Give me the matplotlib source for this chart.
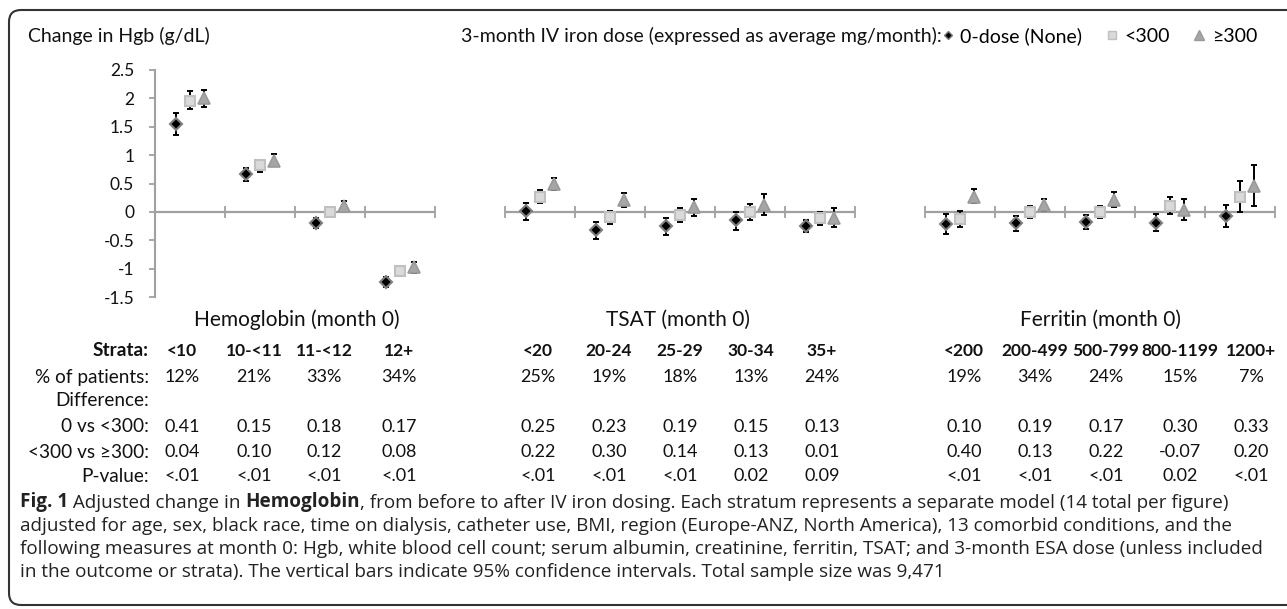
import numpy as np
import matplotlib
matplotlib.use('Agg')
import matplotlib.pyplot as plt
from matplotlib.lines import Line2D
from matplotlib.patches import FancyBboxPatch

plt.rcParams['font.family'] = ['Lato', 'DejaVu Sans']
plt.rcParams['axes.unicode_minus'] = False

# data
panel_titles = ['Hemoglobin (month 0)', 'TSAT (month 0)', 'Ferritin (month 0)']
strata = [['<10', '10-<11', '11-<12', '12+'],
          ['<20', '20-24', '25-29', '30-34', '35+'],
          ['<200', '200-499', '500-799', '800-1199', '1200+']]
pct_patients = [['12%', '21%', '33%', '34%'],
                ['25%', '19%', '18%', '13%', '24%'],
                ['19%', '34%', '24%', '15%', '7%']]
diff_0_vs_lt300 = [['0.41', '0.15', '0.18', '0.17'],
                   ['0.25', '0.23', '0.19', '0.15', '0.13'],
                   ['0.10', '0.19', '0.17', '0.30', '0.33']]
diff_lt300_vs_ge300 = [['0.04', '0.10', '0.12', '0.08'],
                       ['0.22', '0.30', '0.14', '0.13', '0.01'],
                       ['0.40', '0.13', '0.22', '-0.07', '0.20']]
p_values = [['<.01', '<.01', '<.01', '<.01'],
            ['<.01', '<.01', '<.01', '0.02', '0.09'],
            ['<.01', '<.01', '<.01', '0.02', '<.01']]

# estimates and 95% CI, 14 strata in order (Hgb 4, TSAT 5, Ferritin 5)
none_est = [1.55, 0.67, -0.19, -1.23, 0.02, -0.32, -0.25, -0.15, -0.25, -0.22, -0.20, -0.17, -0.20, -0.07]
none_lo = [1.36, 0.55, -0.29, -1.33, -0.14, -0.47, -0.40, -0.32, -0.36, -0.39, -0.33, -0.30, -0.34, -0.26]
none_hi = [1.74, 0.78, -0.11, -1.14, 0.16, -0.17, -0.11, 0.00, -0.14, -0.04, -0.08, -0.05, -0.04, 0.12]
lt300_est = [1.96, 0.82, -0.01, -1.05, 0.27, -0.09, -0.06, 0.00, -0.11, -0.12, 0.00, 0.00, 0.11, 0.27]
lt300_lo = [1.81, 0.71, -0.07, -1.10, 0.15, -0.22, -0.18, -0.14, -0.23, -0.27, -0.11, -0.10, -0.04, -0.01]
lt300_hi = [2.13, 0.90, 0.05, -1.00, 0.39, 0.02, 0.06, 0.14, -0.01, 0.02, 0.10, 0.10, 0.26, 0.55]
ge300_est = [2.00, 0.90, 0.10, -0.98, 0.49, 0.21, 0.08, 0.12, -0.10, 0.27, 0.12, 0.21, 0.04, 0.46]
ge300_lo = [1.85, 0.80, 0.02, -1.07, 0.39, 0.08, -0.07, -0.05, -0.27, 0.16, 0.02, 0.08, -0.15, 0.11]
ge300_hi = [2.15, 1.02, 0.20, -0.88, 0.59, 0.34, 0.22, 0.31, 0.06, 0.40, 0.23, 0.35, 0.22, 0.83]

series_labels = ['0-dose (None)', '<300', '≥300']

# layout
W, H = 1287, 609
panel_start = [0, 5, 11]   # category slots, one empty slot between panels
offsets = [0.3, 0.5, 0.7]
col_x = [[182, 254, 324, 399], [538, 609, 680, 751, 822], [964, 1035, 1106, 1180, 1251]]
title_x = [297, 678, 1100]
row_y = [351, 377, 401, 427, 452, 476]
row_labels = ['Strata:', '% of patients:', 'Difference:', '0 vs <300:', '<300 vs ≥300:', 'P-value:']


def fx(x):
    return x / W


def fy(y):
    return 1 - y / H


fig = plt.figure(figsize=(W / 100, H / 100), dpi=100)
ax = fig.add_axes([fx(155), fy(297), 1120 / W, 227 / H])

xpos = []
for p, cats in enumerate(strata):
    for i in range(len(cats)):
        xpos.append(panel_start[p] + i)
xpos = np.array(xpos, dtype=float)

styles = [
    dict(marker='D', ms=6.5, mfc='black', mec='#808080', mew=1.5),
    dict(marker='s', ms=7.5, mfc='#dadada', mec='#c0c0c0', mew=1.5),
    dict(marker='^', ms=9, mfc='#a6a6a6', mec='#999999', mew=1.2),
]
series = [(none_est, none_lo, none_hi), (lt300_est, lt300_lo, lt300_hi), (ge300_est, ge300_lo, ge300_hi)]

# zero line with cross ticks per panel
for p, cats in enumerate(strata):
    s, n = panel_start[p], len(cats)
    ax.hlines(0, s, s + n, color='#a0a0a0', lw=1.6, zorder=1)
    ax.plot(np.arange(s, s + n + 1), np.zeros(n + 1), ls='none', marker='|',
            ms=9, mew=1.3, color='#a0a0a0', zorder=1)

for k, (est, lo, hi) in enumerate(series):
    est, lo, hi = np.array(est), np.array(lo), np.array(hi)
    x = xpos + offsets[k]
    ax.errorbar(x, est, yerr=[est - lo, hi - est], fmt='none', ecolor='black',
                elinewidth=1.4, capsize=2.2, capthick=1.4, zorder=2)
    ax.plot(x, est, ls='none', zorder=3, **styles[k])

ax.set_xlim(0, 16)
ax.set_ylim(-1.5, 2.5)
ax.set_yticks(np.arange(-1.5, 2.51, 0.5))
ax.set_yticklabels(['%g' % v for v in np.arange(-1.5, 2.51, 0.5)])
ax.set_xticks([])
for sp in ['top', 'right', 'bottom']:
    ax.spines[sp].set_visible(False)
ax.spines['left'].set_color('#a0a0a0')
ax.spines['left'].set_linewidth(1.5)
ax.tick_params(axis='y', direction='out', length=4, width=1.3, color='#a0a0a0',
               labelsize=12.5, pad=11, labelcolor='#111111')
ax.patch.set_alpha(0)

# header texts
fig.text(fx(28), fy(36), 'Change in Hgb (g/dL)', fontsize=14, va='center', color='#111111')
fig.text(fx(461), fy(36), '3-month IV iron dose (expressed as average mg/month):',
         fontsize=14, va='center', color='#111111')
handles = [Line2D([], [], ls='none', marker='D', ms=4.5, mfc='black', mec='#808080', mew=1),
           Line2D([], [], ls='none', marker='s', ms=6, mfc='#dadada', mec='#c0c0c0', mew=1),
           Line2D([], [], ls='none', marker='^', ms=6.5, mfc='#a6a6a6', mec='#999999', mew=1)]
fig.legend(handles, series_labels, loc='center left', bbox_to_anchor=(fx(943), fy(36)),
           ncol=3, frameon=False, fontsize=14, handlelength=0.5, handletextpad=0.4,
           columnspacing=1.25, borderpad=0, borderaxespad=0)

# panel titles and table
for p in range(3):
    fig.text(fx(title_x[p]), fy(320), panel_titles[p], fontsize=15, ha='center', va='center',
             color='#111111')
for r, lab in enumerate(row_labels):
    fig.text(fx(149), fy(row_y[r]), lab, fontsize=13.7, ha='right', va='center',
             weight='bold' if r == 0 else 'normal', color='#111111')
table_rows = [(0, strata), (1, pct_patients), (3, diff_0_vs_lt300), (4, diff_lt300_vs_ge300), (5, p_values)]
for r, rows in table_rows:
    for p in range(3):
        for i, val in enumerate(rows[p]):
            fig.text(fx(col_x[p][i]), fy(row_y[r]), val, fontsize=13 if r else 12.5,
                     ha='center', va='center', weight='bold' if r == 0 else 'normal',
                     color='#111111')

# caption
caption = [
    [('Fig. 1', 'bold'), (' Adjusted change in ', 'normal'), ('Hemoglobin', 'bold'),
     (', from before to after IV iron dosing. Each stratum represents a separate model (14 total per figure)', 'normal')],
    [('adjusted for age, sex, black race, time on dialysis, catheter use, BMI, region (Europe-ANZ, North America), 13 comorbid conditions, and the', 'normal')],
    [('following measures at month 0: Hgb, white blood cell count; serum albumin, creatinine, ferritin, TSAT; and 3-month ESA dose (unless included', 'normal')],
    [('in the outcome or strata). The vertical bars indicate 95% confidence intervals. Total sample size was 9,471', 'normal')],
]
cap_y = [502, 526, 549, 572]
cap_font = ['Open Sans', 'DejaVu Sans']
cap_size = 13.6
for line, y in zip(caption, cap_y):
    prev = None
    for txt, wt in line:
        if prev is None:
            prev = fig.text(fx(20), fy(y), txt, fontsize=cap_size, weight=wt, va='center',
                            family=cap_font, color='#222222')
        else:
            prev = ax.annotate(txt, xy=(1, 0), xycoords=prev, va='bottom', ha='left',
                               fontsize=cap_size, weight=wt, family=cap_font, color='#222222',
                               annotation_clip=False)

# rounded frame
frame = FancyBboxPatch((0.09, 0.04), 13.0, 5.95, boxstyle='round,pad=0,rounding_size=0.12',
                       transform=fig.dpi_scale_trans, fill=False, ec='#333333', lw=1.5)
fig.add_artist(frame)

fig.savefig('out.png', dpi=100)
